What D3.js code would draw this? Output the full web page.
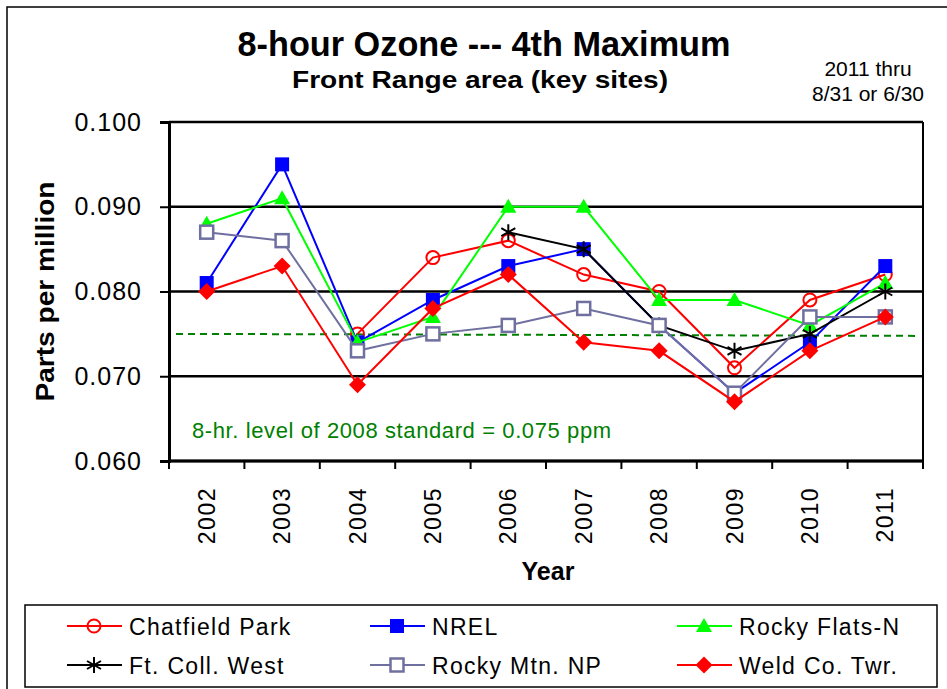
<!DOCTYPE html>
<html>
<head>
<meta charset="utf-8">
<script src="https://cdn.jsdelivr.net/npm/d3@7"></script>
<style>
  body { margin: 0; background: #fff; overflow: hidden; }
  svg text { font-family: "Liberation Sans", Arial, sans-serif; }
</style>
</head>
<body>
<div id="chart"></div>
<script>
// data
var years = ["2002", "2003", "2004", "2005", "2006", "2007", "2008", "2009", "2010", "2011"];
var chatfield = [null, null, 0.075, 0.084, 0.086, 0.082, 0.080, 0.071, 0.079, 0.082];
var nrel = [0.081, 0.095, 0.074, 0.079, 0.083, 0.085, 0.076, 0.068, 0.074, 0.083];
var rockyFlats = [0.088, 0.091, 0.074, 0.077, 0.090, 0.090, 0.079, 0.079, 0.076, 0.081];
var ftCollins = [null, null, null, null, 0.087, 0.085, 0.076, 0.073, 0.075, 0.080];
var rockyMtn = [0.087, 0.086, 0.073, 0.075, 0.076, 0.078, 0.076, 0.068, 0.077, 0.077];
var weld = [0.080, 0.083, 0.069, 0.078, 0.082, 0.074, 0.073, 0.067, 0.073, 0.077];
var yTicks = [0.060, 0.070, 0.080, 0.090, 0.100];
var standard = 0.075;

var series = [
    { name: "Chatfield Park", values: chatfield, color: "#ff0000", marker: "circle" },
    { name: "NREL", values: nrel, color: "#0000ff", marker: "square" },
    { name: "Rocky Flats-N", values: rockyFlats, color: "#00ff00", marker: "triangle" },
    { name: "Ft. Coll. West", values: ftCollins, color: "#000000", marker: "star" },
    { name: "Rocky Mtn. NP", values: rockyMtn, color: "#7070a0", marker: "open" },
    { name: "Weld Co. Twr.", values: weld, color: "#ff0000", marker: "diamond" }
];

var width = 947, height = 689;
var plot = { left: 169, right: 923, top: 122, bottom: 461 };

var svg = d3.select("#chart").append("svg")
    .attr("width", width)
    .attr("height", height);

// outer frame (only top and left edges show)
svg.append("path")
    .attr("d", "M7,700V7H960")
    .attr("fill", "none").attr("stroke", "#000").attr("stroke-width", 1.5);

var x = d3.scaleBand().domain(years).range([plot.left, plot.right]);
var y = d3.scaleLinear().domain([0.060, 0.100]).range([plot.bottom, plot.top]);

// gridlines
svg.append("g").selectAll("line")
    .data(yTicks)
    .enter().append("line")
    .attr("x1", plot.left).attr("x2", plot.right)
    .attr("y1", d => y(d)).attr("y2", d => y(d))
    .attr("stroke", "#000").attr("stroke-width", 2.5);

// right border
svg.append("line")
    .attr("x1", plot.right).attr("x2", plot.right)
    .attr("y1", plot.top).attr("y2", plot.bottom)
    .attr("stroke", "#000").attr("stroke-width", 2);

// y axis
var yAxis = d3.axisLeft(y).tickValues(yTicks).tickFormat(d3.format(".3f")).tickSize(9).tickPadding(18);
var gY = svg.append("g")
    .attr("transform", "translate(" + plot.left + ",0)")
    .call(yAxis);
gY.select(".domain").attr("stroke-width", 3);
gY.selectAll(".tick line").attr("stroke-width", 2);
gY.selectAll("text").attr("font-size", 25).attr("fill", "#000")
    .attr("letter-spacing", 1)
    .attr("font-family", "Liberation Sans, Arial, sans-serif");

// x axis, ticks on category boundaries
var gX = svg.append("g")
    .attr("transform", "translate(0," + plot.bottom + ")");
gX.append("line")
    .attr("x1", plot.left).attr("x2", plot.right)
    .attr("stroke", "#000").attr("stroke-width", 3);
gX.selectAll(".bnd")
    .data(years.concat(["end"]))
    .enter().append("line")
    .attr("x1", (d, i) => plot.left + i * x.step())
    .attr("x2", (d, i) => plot.left + i * x.step())
    .attr("y1", 0).attr("y2", 8)
    .attr("stroke", "#000").attr("stroke-width", 2);
gX.selectAll(".lbl")
    .data(years)
    .enter().append("text")
    .attr("transform", d => "translate(" + (x(d) + x.bandwidth() / 2 + 8) + ",26) rotate(-90)")
    .attr("text-anchor", "end")
    .attr("font-size", 23)
    .attr("letter-spacing", 1.5)
    .text(d => d);

// axis titles
svg.append("text")
    .attr("transform", "translate(54," + ((plot.top + plot.bottom) / 2) + ") rotate(-90)")
    .attr("text-anchor", "middle")
    .attr("font-size", 25).attr("font-weight", "bold")
    .attr("textLength", 220).attr("lengthAdjust", "spacingAndGlyphs")
    .text("Parts per million");
svg.append("text")
    .attr("x", 548).attr("y", 580)
    .attr("text-anchor", "middle")
    .attr("font-size", 25).attr("font-weight", "bold")
    .text("Year");

// titles
svg.append("text")
    .attr("x", 484).attr("y", 56)
    .attr("text-anchor", "middle")
    .attr("font-size", 35).attr("font-weight", "bold")
    .attr("textLength", 493).attr("lengthAdjust", "spacingAndGlyphs")
    .text("8-hour Ozone --- 4th Maximum");
svg.append("text")
    .attr("x", 480).attr("y", 88)
    .attr("text-anchor", "middle")
    .attr("font-size", 24).attr("font-weight", "bold")
    .attr("textLength", 376).attr("lengthAdjust", "spacingAndGlyphs")
    .text("Front Range area (key  sites)");
svg.append("text")
    .attr("x", 868).attr("y", 76)
    .attr("text-anchor", "middle")
    .attr("font-size", 21)
    .text("2011 thru");
svg.append("text")
    .attr("x", 868).attr("y", 101)
    .attr("text-anchor", "middle")
    .attr("font-size", 21)
    .text("8/31 or 6/30");

// standard line
svg.append("line")
    .attr("x1", plot.left + 7).attr("x2", plot.right - 8)
    .attr("y1", y(standard)).attr("y2", y(standard) + 2)
    .attr("stroke", "#008000").attr("stroke-width", 2)
    .attr("stroke-dasharray", "7,5");
svg.append("text")
    .attr("x", 192).attr("y", 438)
    .attr("font-size", 22).attr("fill", "#008000")
    .attr("letter-spacing", 0.6)
    .text("8-hr. level of 2008 standard = 0.075 ppm");

// markers
function drawMarker(g, type, color) {
    if (type === "circle") {
        g.append("circle").attr("r", 6.5).attr("fill", "#fff").attr("fill-opacity", 0)
            .attr("stroke", color).attr("stroke-width", 2);
    } else if (type === "square") {
        g.append("rect").attr("x", -7).attr("y", -7).attr("width", 14).attr("height", 14)
            .attr("fill", color);
    } else if (type === "triangle") {
        g.append("path").attr("d", "M0,-8L8,6L-8,6Z").attr("fill", color);
    } else if (type === "star") {
        g.append("path").attr("d", "M0,-8V8M-7,-4L7,4M-7,4L7,-4")
            .attr("stroke", color).attr("stroke-width", 2);
    } else if (type === "open") {
        g.append("rect").attr("x", -6.5).attr("y", -6.5).attr("width", 13).attr("height", 13)
            .attr("fill", "#fff").attr("stroke", color).attr("stroke-width", 2.5);
    } else if (type === "diamond") {
        g.append("path").attr("d", "M0,-8.5L8.5,0L0,8.5L-8.5,0Z").attr("fill", color);
    }
}

var line = d3.line()
    .defined(d => d.v != null)
    .x(d => x(d.year) + x.bandwidth() / 2)
    .y(d => y(d.v));

series.forEach(function (s) {
    var pts = years.map((yr, i) => ({ year: yr, v: s.values[i] }));
    var g = svg.append("g");
    g.append("path")
        .datum(pts)
        .attr("d", line)
        .attr("fill", "none")
        .attr("stroke", s.color)
        .attr("stroke-width", 2);
    pts.filter(d => d.v != null).forEach(function (d) {
        var m = g.append("g")
            .attr("transform", "translate(" + (x(d.year) + x.bandwidth() / 2) + "," + y(d.v) + ")");
        drawMarker(m, s.marker, s.color);
    });
});

// legend
var legend = svg.append("g");
legend.append("rect")
    .attr("x", 25).attr("y", 605)
    .attr("width", 912).attr("height", 82)
    .attr("fill", "#fff").attr("stroke", "#000").attr("stroke-width", 1.5);
var colX = [67, 370, 677];
var rowY = [626, 665];
series.forEach(function (s, i) {
    var lx = colX[i % 3], ly = rowY[Math.floor(i / 3)];
    var item = legend.append("g").attr("transform", "translate(" + lx + "," + ly + ")");
    item.append("line").attr("x1", 0).attr("x2", 55)
        .attr("stroke", s.color).attr("stroke-width", 2);
    var m = item.append("g").attr("transform", "translate(27,0)");
    drawMarker(m, s.marker, s.color);
    item.append("text")
        .attr("x", 62).attr("y", 9)
        .attr("font-size", 23)
        .attr("letter-spacing", 1.3)
        .text(s.name);
});
</script>
</body>
</html>
